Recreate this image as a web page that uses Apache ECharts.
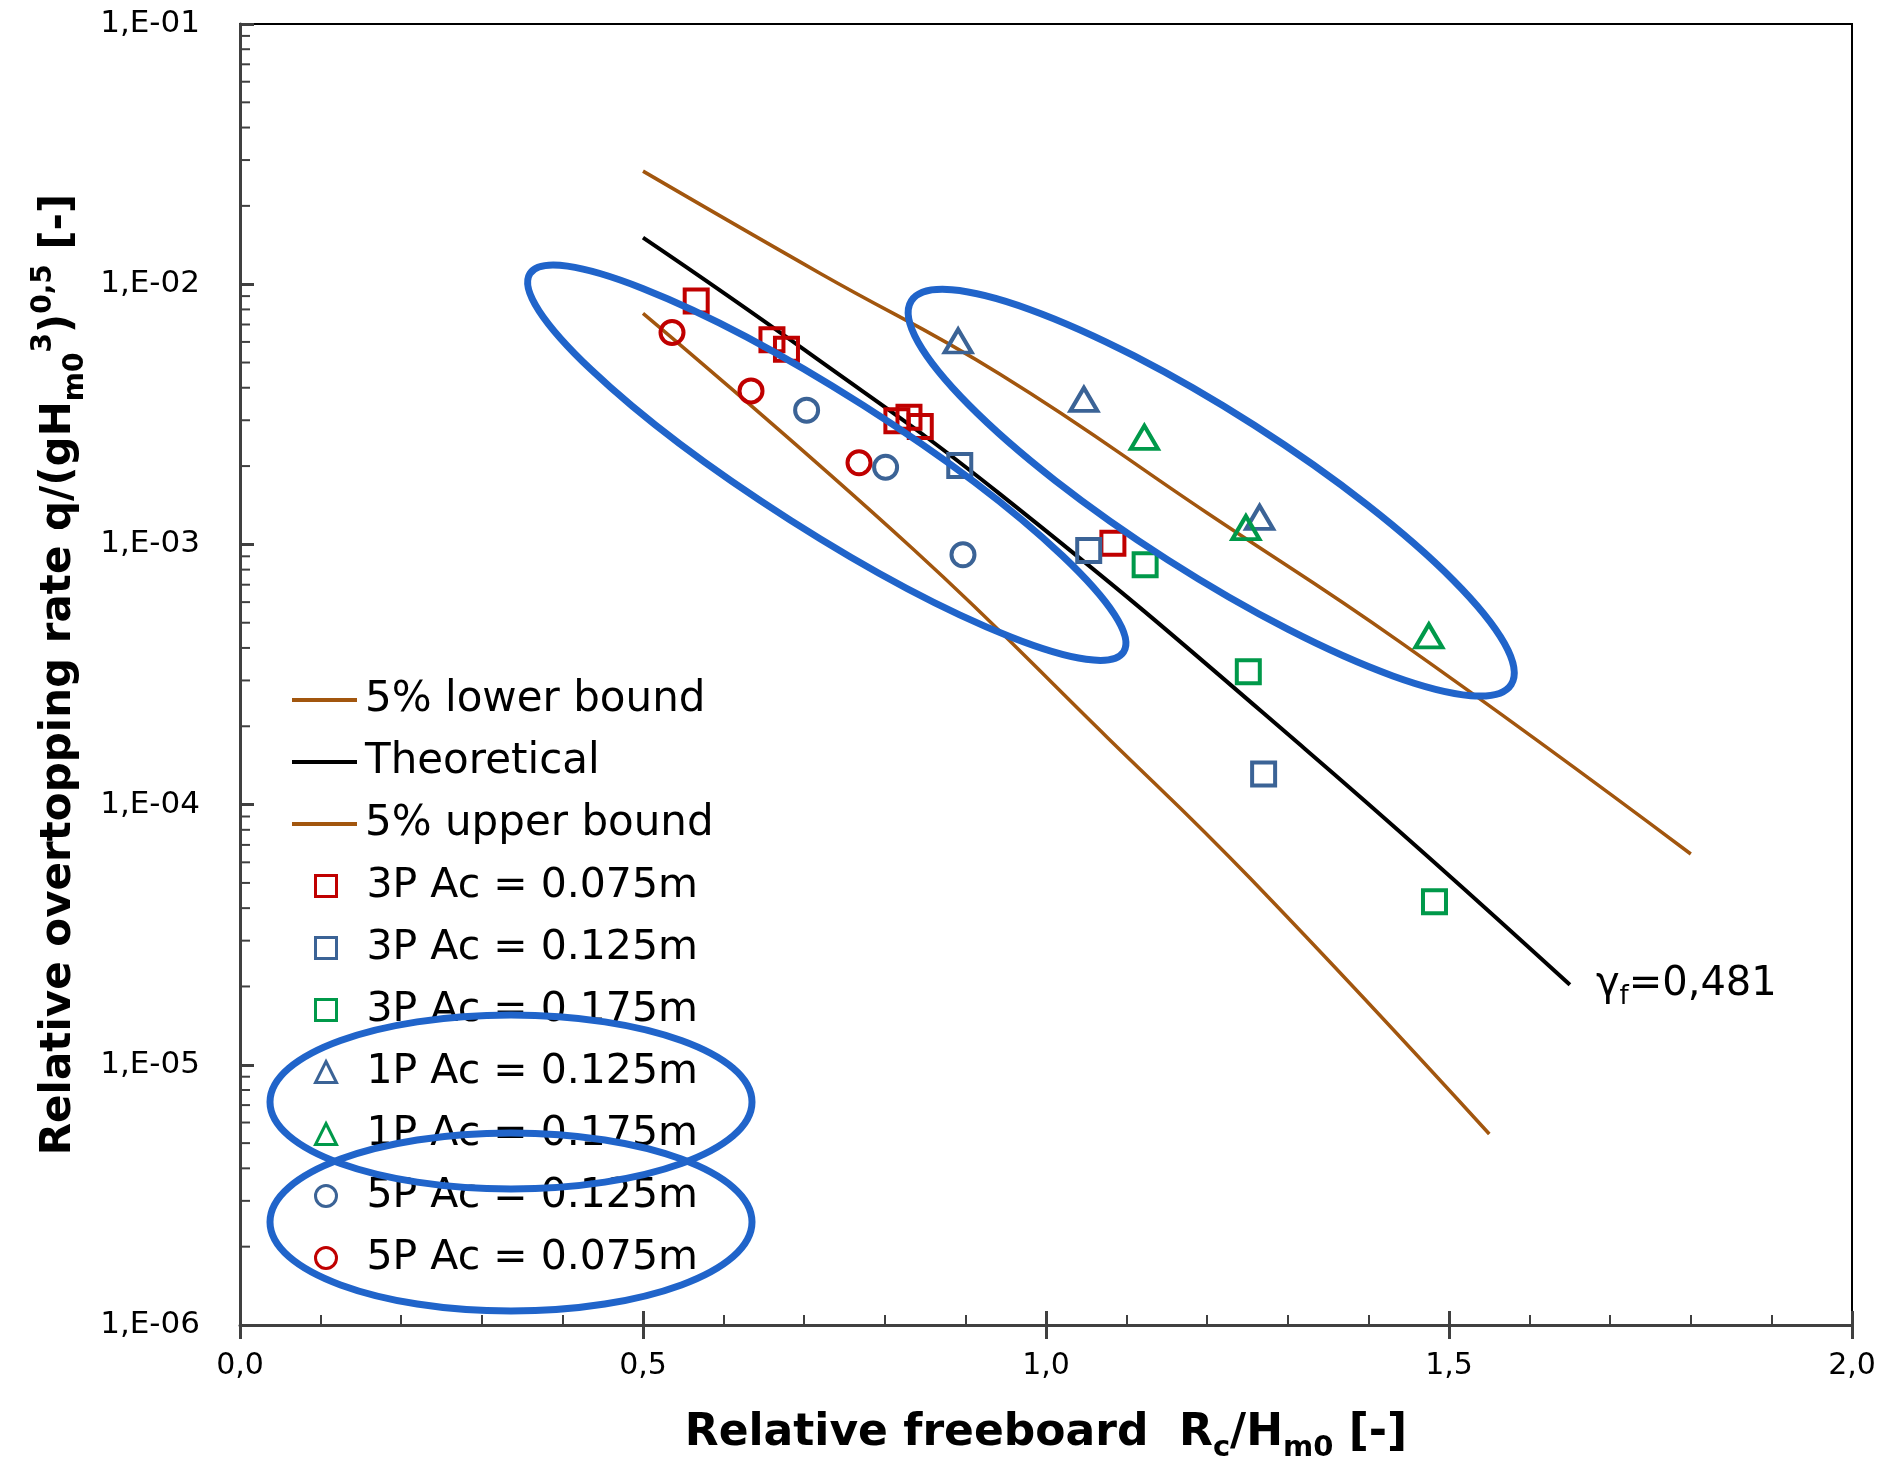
<!DOCTYPE html>
<html>
<head>
<meta charset="utf-8">
<script src="https://cdn.jsdelivr.net/npm/echarts@6.0.0/dist/echarts.min.js"></script>
<style>
html,body{margin:0;padding:0;background:#ffffff;}
#chart{width:1888px;height:1468px;}
</style>
</head>
<body>
<div id="chart"></div>
<script>
// ---------------- data ----------------
const lowerBoundX = [0.50, 0.835, 1.077, 1.253, 1.55];
const lowerBoundY = [7.73e-3, 9.6e-4, 1.80e-4, 5.22e-5, 5.42e-6];

const theoreticalX = [0.50, 0.70, 0.943, 1.321, 1.65];
const theoreticalY = [1.51e-2, 5.6e-3, 1.56e-3, 1.64e-4, 2.03e-5];

const upperBoundX = [0.50, 0.72, 0.943, 1.20, 1.439, 1.80];
const upperBoundY = [2.72e-2, 1.1e-2, 4.51e-3, 1.32e-3, 4.22e-4, 6.46e-5];

const p3Ac075X = [0.566, 0.660, 0.678, 0.815, 0.830, 0.844, 1.083];
const p3Ac075Y = [8.61e-3, 6.11e-3, 5.62e-3, 2.99e-3, 3.08e-3, 2.84e-3, 1.01e-3];

const p3Ac125X = [0.893, 1.053, 1.270];
const p3Ac125Y = [2.01e-3, 9.48e-4, 1.31e-4];

const p3Ac175X = [1.123, 1.251, 1.482];
const p3Ac175Y = [8.36e-4, 3.24e-4, 4.23e-5];

const p1Ac125X = [0.891, 1.047, 1.265];
const p1Ac125Y = [6.05e-3, 3.61e-3, 1.27e-3];

const p1Ac175X = [1.122, 1.248, 1.475];
const p1Ac175Y = [2.58e-3, 1.16e-3, 4.45e-4];

const p5Ac125X = [0.703, 0.801, 0.897];
const p5Ac125Y = [3.28e-3, 1.98e-3, 9.12e-4];

const p5Ac075X = [0.536, 0.634, 0.768];
const p5Ac075Y = [6.52e-3, 3.89e-3, 2.06e-3];

const lineNames = ['5% lower bound', 'Theoretical', '5% upper bound'];
const pointNames = ['3P Ac = 0.075m', '3P Ac = 0.125m', '3P Ac = 0.175m',
                    '1P Ac = 0.125m', '1P Ac = 0.175m', '5P Ac = 0.125m', '5P Ac = 0.075m'];

const xAxisRange = [0, 2];
const yAxisRange = [1e-6, 1e-1];
const yDecades = [1e-6, 1e-5, 1e-4, 1e-3, 1e-2];
const yMinorMultipliers = [2, 3, 4, 5, 6, 7, 8, 9];
const gammaLabel = '{g|γ}{s|f}{g|=0,481}';

// ---------------- styling ----------------
const RED = '#C00000', BLUE = '#3B6396', GREEN = '#00994A', BROWN = '#A2560E';
const AXIS = '#404040';
const FONT = 'DejaVu Sans';
const ELLIPSE = '#2064CA';

const zip = (xs, ys) => xs.map((x, i) => [x, ys[i]]);

const yMinorTicks = [];
yDecades.forEach(d => yMinorMultipliers.forEach(m => yMinorTicks.push([xAxisRange[0], m * d])));

function expLabel(v) {
  const e = Math.round(Math.log10(v));
  return '1,E' + (e < 0 ? '-' : '+') + String(Math.abs(e)).padStart(2, '0');
}

function lineSeries(name, xs, ys, color, width, extra) {
  return Object.assign({
    type: 'line', name: name, data: zip(xs, ys), symbol: 'none',
    smooth: 0.45,
    lineStyle: { color: color, width: width }, itemStyle: { color: color },
    z: 2, silent: true
  }, extra || {});
}
function pointSeries(name, xs, ys, color, symbol, size) {
  return {
    type: 'scatter', name: name, data: zip(xs, ys), symbol: symbol, symbolSize: size,
    itemStyle: { color: 'transparent', borderColor: color, borderWidth: 4, opacity: 1 },
    z: 3, silent: true
  };
}

const chart = echarts.init(document.getElementById('chart'), null, { renderer: 'canvas' });

const option = {
  animation: false,
  backgroundColor: '#ffffff',
  grid: { left: 240, right: 36, top: 24, bottom: 140, show: true, borderColor: '#000', borderWidth: 2, backgroundColor: 'transparent' },
  xAxis: [{
    type: 'value', min: xAxisRange[0], max: xAxisRange[1], interval: 0.5, position: 'bottom',
    axisLine: { show: true, onZero: false, lineStyle: { color: AXIS, width: 3 } },
    axisTick: { show: true, inside: false, length: 14, lineStyle: { color: AXIS, width: 3 } },
    splitLine: { show: false },
    axisLabel: { margin: 26, color: '#000', fontFamily: FONT, fontSize: 30, formatter: v => v.toFixed(1).replace('.', ',') },
    name: 'Relative freeboard  R{sub|c}/H{sub|m0} [-]', nameLocation: 'middle', nameGap: 80,
    nameTextStyle: { color: '#000', fontFamily: FONT, fontWeight: 'bold', fontSize: 44, lineHeight: 58,
      rich: { sub: { fontFamily: FONT, fontWeight: 'bold', fontSize: 29, verticalAlign: 'bottom', lineHeight: 58, color: '#000' } } }
  }, {
    type: 'value', min: xAxisRange[0], max: xAxisRange[1], interval: 0.5, position: 'bottom',
    axisLine: { show: false },
    axisTick: { show: true, inside: true, length: 14, lineStyle: { color: AXIS, width: 3 } },
    minorTick: { show: true, splitNumber: 5, length: 10, lineStyle: { color: AXIS, width: 2 } },
    axisLabel: { show: false }, splitLine: { show: false }
  }],
  yAxis: {
    type: 'log', logBase: 10, min: yAxisRange[0], max: yAxisRange[1], splitNumber: 5,
    axisLine: { show: true, onZero: false, lineStyle: { color: AXIS, width: 3 } },
    axisTick: { show: true, inside: true, length: 14, lineStyle: { color: AXIS, width: 3 } },
    splitLine: { show: false },
    axisLabel: { margin: 40, color: '#000', fontFamily: FONT, fontSize: 31, formatter: expLabel },
    name: 'Relative overtopping rate q/(gH{sub|m0}{sup|3}){sup|0,5} [-]',
    nameLocation: 'middle', nameGap: 150, nameRotate: 90,
    nameTextStyle: { color: '#000', fontFamily: FONT, fontWeight: 'bold', fontSize: 42, lineHeight: 60,
      rich: {
        sub: { fontFamily: FONT, fontWeight: 'bold', fontSize: 28, verticalAlign: 'bottom', lineHeight: 60, color: '#000' },
        sup: { fontFamily: FONT, fontWeight: 'bold', fontSize: 28, verticalAlign: 'top', lineHeight: 60, color: '#000' }
      } }
  },
  legend: [{
    data: lineNames.map(n => ({ name: n, icon: 'rect' })), orient: 'vertical', left: 292, top: 678, padding: 0,
    itemWidth: 65, itemHeight: 4, itemGap: 18, selectedMode: false,
    textStyle: { fontFamily: FONT, fontSize: 42, color: '#000', lineHeight: 44, padding: [0, 0, 0, 3] }
  }, {
    data: pointNames, orient: 'vertical', left: 314, top: 864, padding: 0,
    itemWidth: 21, itemHeight: 21, itemGap: 18, selectedMode: false,
    itemStyle: { borderWidth: 3 },
    textStyle: { fontFamily: FONT, fontSize: 41, color: '#000', lineHeight: 44, padding: [0, 0, 0, 25] }
  }],
  series: [
    lineSeries(lineNames[0], lowerBoundX, lowerBoundY, BROWN, 3.5),
    lineSeries(lineNames[1], theoreticalX, theoreticalY, '#000000', 4, {
      endLabel: { show: true, formatter: gammaLabel, distance: 26,
        rich: {
          g: { fontFamily: FONT, fontSize: 40, color: '#000', lineHeight: 50 },
          s: { fontFamily: FONT, fontSize: 26, color: '#000', lineHeight: 50, verticalAlign: 'bottom' }
        } }
    }),
    lineSeries(lineNames[2], upperBoundX, upperBoundY, BROWN, 3.5),
    pointSeries(pointNames[0], p3Ac075X, p3Ac075Y, RED, 'rect', 23),
    pointSeries(pointNames[1], p3Ac125X, p3Ac125Y, BLUE, 'rect', 23),
    pointSeries(pointNames[2], p3Ac175X, p3Ac175Y, GREEN, 'rect', 23),
    pointSeries(pointNames[3], p1Ac125X, p1Ac125Y, BLUE, 'triangle', [27, 23]),
    pointSeries(pointNames[4], p1Ac175X, p1Ac175Y, GREEN, 'triangle', [27, 23]),
    pointSeries(pointNames[5], p5Ac125X, p5Ac125Y, BLUE, 'circle', 23),
    pointSeries(pointNames[6], p5Ac075X, p5Ac075Y, RED, 'circle', 23),
    {
      type: 'custom', name: 'minorTicks', data: yMinorTicks, silent: true, z: 5, clip: false,
      renderItem: function (params, api) {
        const p = api.coord([api.value(0), api.value(1)]);
        return { type: 'line', shape: { x1: p[0], y1: p[1], x2: p[0] + 10, y2: p[1] },
                 style: { stroke: AXIS, lineWidth: 2 } };
      }
    }
  ]
};
chart.setOption(option);

// ---------------- annotation ellipses (hand-drawn highlights) ----------------
const plotEllipses = [
  { center: [0.728, 2.06e-3], rx: 352, ry: 68, angle: 32.5 },
  { center: [1.205, 1.58e-3], rx: 356, ry: 80, angle: 32.6 }
];
const legendEllipses = [
  { cx: 511, cy: 1102, rx: 241, ry: 87 },
  { cx: 511, cy: 1222, rx: 241, ry: 89 }
];
const graphics = [];
plotEllipses.forEach(e => {
  const p = chart.convertToPixel({ gridIndex: 0 }, e.center);
  graphics.push({ type: 'ellipse', x: p[0], y: p[1], rotation: -e.angle * Math.PI / 180,
    shape: { cx: 0, cy: 0, rx: e.rx, ry: e.ry }, silent: true, z: 100,
    style: { fill: null, stroke: ELLIPSE, lineWidth: 7 } });
});
legendEllipses.forEach(e => {
  graphics.push({ type: 'ellipse', shape: { cx: e.cx, cy: e.cy, rx: e.rx, ry: e.ry }, silent: true, z: 100,
    style: { fill: null, stroke: ELLIPSE, lineWidth: 7 } });
});
chart.setOption({ graphic: graphics });
</script>
</body>
</html>
